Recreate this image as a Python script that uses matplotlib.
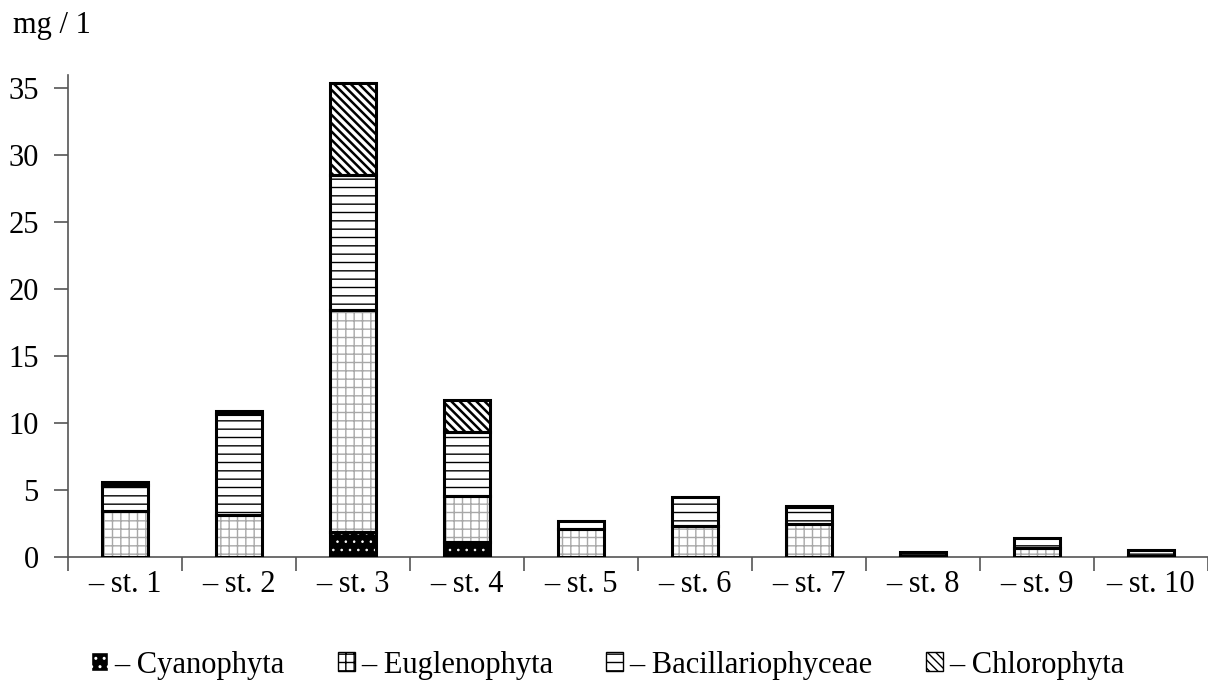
import numpy as np
import matplotlib
matplotlib.use("Agg")
import matplotlib.pyplot as plt
from matplotlib.patches import Patch

# ---------------------------------------------------------------------------
# Data (mg / l, stacked from bottom to top)
# ---------------------------------------------------------------------------
stations = ["\u2013 st. 1", "\u2013 st. 2", "\u2013 st. 3", "\u2013 st. 4", "\u2013 st. 5",
            "\u2013 st. 6", "\u2013 st. 7", "\u2013 st. 8", "\u2013 st. 9", "\u2013 st. 10"]
cyanophyta = [0, 0, 1.9, 1.1, 0, 0, 0, 0, 0, 0]
euglenophyta = [3.4, 3.1, 16.5, 3.45, 2.1, 2.3, 2.5, 0.1, 0.65, 0.1]
bacillariophyceae = [2.0, 7.6, 10.1, 4.75, 0.6, 2.15, 1.2, 0.3, 0.75, 0.45]
chlorophyta = [0.2, 0.2, 6.9, 2.4, 0, 0, 0.1, 0, 0, 0]

group_names = ["\u2013 Cyanophyta", "\u2013 Euglenophyta",
               "\u2013 Bacillariophyceae", "\u2013 Chlorophyta"]

# ---------------------------------------------------------------------------
# Styling
# ---------------------------------------------------------------------------
plt.rcParams["font.family"] = ["Liberation Serif", "DejaVu Serif"]
plt.rcParams["font.size"] = 22
plt.rcParams["hatch.linewidth"] = 1.0

# (facecolor, hatch, hatch colour, hatch linewidth)
styles = [
    ("black", "..", "white", 0.6),
    ("white", "++", "#a8a8a8", 1.0),
    ("white", "--", "black", 1.0),
    ("white", "\\\\\\\\", "black", 1.8),
]


def _hatch_lw(patches, lw):
    for p in patches:
        if hasattr(p, "set_hatch_linewidth"):
            p.set_hatch_linewidth(lw)


W, H = 1208, 693
fig = plt.figure(figsize=(W / 100, H / 100), dpi=100)
ax = fig.add_axes([68 / W, (H - 557) / H, 1140 / W, (557 - 74.6) / H])

x = np.arange(len(stations)) + 0.5
width = 0.4
series = [cyanophyta, euglenophyta, bacillariophyceae, chlorophyta]

bottom = np.zeros(len(stations))
for vals, (fc, hatch, hc, hlw) in zip(series, styles):
    vals = np.asarray(vals, dtype=float)
    with plt.rc_context({"hatch.linewidth": hlw}):
        bars = ax.bar(x, vals, width, bottom=bottom, color=fc, hatch=hatch,
                      edgecolor=hc, linewidth=0, zorder=2)
    _hatch_lw(bars, hlw)
    # outline of each segment
    lw = [2.2 if v > 0 else 0 for v in vals]
    ax.bar(x, vals, width, bottom=bottom, fill=False,
           edgecolor="black", linewidth=lw, zorder=3)
    bottom += vals

ax.set_xlim(0, 1140 / 114.3)
ax.set_ylim(0, 36)
ax.set_yticks(range(0, 36, 5))

# boundaries carry the ticks, centres carry the labels
ax.set_xticks(np.arange(0, len(stations) + 1))
ax.set_xticklabels([])
ax.set_xticks(x, minor=True)
ax.set_xticklabels(stations, minor=True)
ax.tick_params(axis="x", which="major", direction="out", length=10,
               width=1.2, color="#555555")
ax.tick_params(axis="x", which="minor", length=0, pad=9)
ax.tick_params(axis="y", direction="out", length=10, width=1.2,
               color="#555555", pad=11)

for side in ("top", "right"):
    ax.spines[side].set_visible(False)
for side in ("left", "bottom"):
    ax.spines[side].set_color("#555555")
    ax.spines[side].set_linewidth(1.2)

fig.text(13 / W, 1 - 25 / H, "mg / 1", ha="left", va="center")

handles = []
for fc, hatch, hc, hlw in styles:
    with plt.rc_context({"hatch.linewidth": hlw}):
        h = Patch(facecolor=fc, hatch=hatch, edgecolor=hc if fc == "black" else "black")
    handles.append(h)
_hatch_lw(handles, 1.0)
fig.legend(handles, group_names, loc="center", bbox_to_anchor=(0.503, 1 - 665 / H),
           ncol=4, frameon=False, handlelength=0.55, handleheight=0.55,
           handletextpad=0.2, columnspacing=1.75)

fig.savefig("out.png", dpi=100)
